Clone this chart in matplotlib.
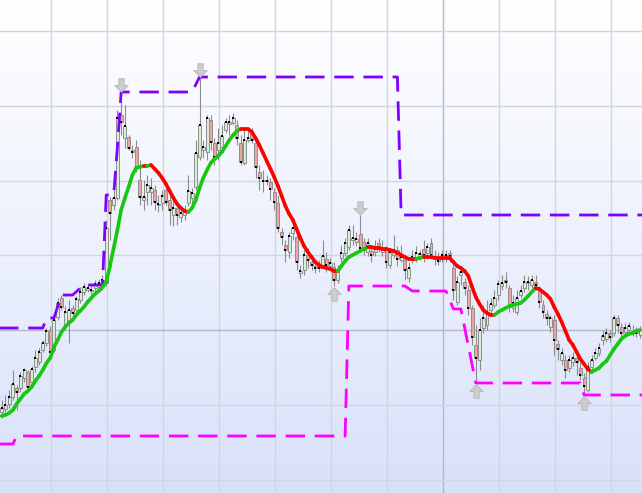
import numpy as np
import matplotlib
matplotlib.use("Agg")
import matplotlib.pyplot as plt
from matplotlib.collections import LineCollection
from matplotlib.colors import LinearSegmentedColormap
from matplotlib.path import Path

# ---------------- data ----------------
opens = [88, 91, 96, 103, 112, 112, 122, 128, 118, 133,
         138, 150, 157, 170, 150, 183, 202, 175, 180, 192,
         190, 200, 208, 210, 209, 212, 213, 215, 217, 300,
         295, 302, 385, 362, 363, 350, 353, 320, 300, 308,
         308, 310, 295, 297, 310, 300, 285, 292, 283, 285,
         297, 302, 313, 343, 350, 348, 380, 357, 350, 353,
         370, 376, 377, 375, 357, 337, 360, 367, 357, 328,
         320, 320, 318, 308, 297, 268, 255, 248, 267, 263,
         227, 230, 245, 238, 234, 235, 235, 241, 234, 233,
         220, 242, 247, 253, 260, 258, 266, 258, 248, 249,
         248, 257, 248, 250, 235, 245, 250, 240, 240, 222,
         240, 242, 243, 251, 247, 257, 242, 243, 242, 242,
         247, 232, 198, 225, 218, 210, 192, 155, 140, 172,
         175, 190, 195, 205, 214, 220, 212, 192, 188, 205,
         212, 217, 215, 218, 210, 195, 186, 173, 180, 156,
         140, 140, 132, 138, 142, 132, 122, 110, 133, 142,
         147, 160, 161, 167, 167, 182, 173, 168, 170, 167,
         167, 165]
closes = [92, 95, 103, 116, 108, 124, 130, 113, 131, 142,
          148, 157, 169, 148, 180, 197, 193, 188, 190, 187,
          201, 208, 213, 212, 210, 216, 217, 220, 272, 287,
          302, 382, 378, 374, 352, 348, 333, 303, 303, 315,
          312, 298, 296, 304, 298, 290, 292, 285, 287, 290,
          309, 307, 347, 375, 353, 382, 358, 343, 357, 364,
          378, 378, 382, 362, 338, 360, 362, 360, 333, 322,
          319, 319, 311, 298, 272, 263, 250, 264, 272, 238,
          229, 245, 240, 235, 232, 232, 244, 235, 237, 220,
          230, 247, 257, 270, 262, 261, 252, 250, 257, 245,
          251, 252, 252, 238, 248, 250, 241, 243, 230, 232,
          243, 247, 246, 245, 253, 245, 243, 239, 245, 245,
          244, 210, 218, 228, 212, 192, 163, 142, 170, 182,
          188, 196, 202, 216, 217, 218, 193, 197, 202, 209,
          218, 218, 220, 215, 198, 188, 182, 182, 160, 151,
          147, 130, 140, 142, 138, 125, 114, 133, 140, 147,
          152, 164, 167, 163, 182, 175, 167, 172, 174, 168,
          167, 170]
highs = [100, 105, 110, 130, 115, 128, 132, 130, 134, 150,
         152, 160, 172, 174, 184, 202, 205, 194, 200, 195,
         204, 213, 217, 216, 216, 220, 221, 225, 280, 303,
         310, 390, 408, 395, 365, 355, 360, 340, 320, 325,
         322, 315, 305, 310, 315, 305, 300, 295, 292, 295,
         325, 312, 360, 423, 360, 385, 385, 362, 372, 375,
         382, 385, 387, 380, 365, 370, 372, 372, 360, 335,
         330, 325, 322, 312, 305, 272, 260, 268, 275, 268,
         235, 250, 252, 242, 238, 240, 260, 248, 242, 238,
         235, 255, 262, 275, 275, 268, 285, 262, 262, 255,
         260, 262, 260, 254, 252, 265, 254, 255, 244, 238,
         250, 254, 250, 260, 257, 262, 250, 248, 250, 250,
         250, 238, 224, 232, 222, 215, 195, 175, 182, 195,
         200, 202, 210, 220, 225, 228, 215, 205, 210, 215,
         225, 224, 225, 225, 214, 200, 190, 185, 185, 160,
         152, 145, 145, 148, 146, 138, 127, 138, 145, 152,
         157, 170, 172, 170, 185, 185, 177, 177, 178, 175,
         173, 174]
lows = [82, 88, 92, 100, 90, 108, 118, 110, 115, 128,
        135, 148, 154, 145, 148, 180, 190, 170, 157, 184,
        187, 197, 205, 208, 200, 208, 210, 210, 214, 260,
        290, 300, 365, 352, 350, 342, 328, 295, 290, 295,
        295, 290, 288, 290, 295, 275, 274, 275, 278, 280,
        294, 295, 310, 340, 342, 340, 350, 335, 340, 350,
        367, 365, 375, 355, 335, 335, 358, 357, 322, 310,
        308, 315, 300, 290, 268, 255, 238, 242, 260, 230,
        222, 225, 232, 230, 227, 228, 232, 228, 230, 214,
        217, 238, 244, 250, 255, 254, 248, 245, 244, 238,
        244, 248, 244, 232, 232, 242, 234, 238, 220, 218,
        237, 238, 240, 238, 244, 242, 235, 235, 238, 238,
        238, 200, 195, 215, 205, 185, 155, 117, 130, 167,
        170, 185, 192, 200, 210, 212, 188, 188, 185, 202,
        208, 210, 212, 210, 192, 182, 175, 168, 145, 140,
        135, 122, 128, 134, 125, 120, 105, 108, 130, 140,
        144, 155, 158, 158, 164, 167, 162, 165, 167, 164,
        163, 162]
ma_values = [84, 85, 87, 90, 96, 101, 106, 109, 113, 119,
             124, 130, 137, 142, 153, 160, 168, 173, 177, 180,
             185, 189, 193, 198, 202, 206, 209, 213, 218, 234,
             252, 270, 290, 302, 313, 325, 332, 333, 334, 334,
             335, 331, 327, 322, 316, 309, 302, 296, 292, 289,
             288, 292, 300, 312, 322, 330, 337, 341, 344, 348,
             354, 360, 365, 369, 371, 371, 371, 368, 362, 355,
             347, 339, 331, 323, 314, 304, 294, 286, 280, 271,
             262, 254, 248, 243, 238, 235, 233, 232, 231, 229,
             229, 234, 239, 243, 245, 247, 249, 251, 253, 253,
             252, 252, 251, 251, 250, 249, 247, 245, 243, 241,
             241, 241, 242, 243, 243, 243, 242, 242, 242, 242,
             242, 238, 234, 232, 229, 224, 213, 203, 196, 190,
             187, 185, 185, 188, 190, 192, 194, 195, 196, 197,
             200, 204, 208, 212, 211, 208, 205, 201, 193, 186,
             178, 169, 160, 155, 148, 141, 136, 131, 128, 130,
             132, 136, 139, 145, 151, 156, 161, 164, 166, 167,
             169, 170]

upper_x = [-1, 11, 12, 14, 16, 19, 22, 27, 28, 30, 31, 32, 51, 53, 106, 107, 173]
upper_y = [172, 172, 182, 182, 205, 205, 215, 215, 305, 305, 353, 408, 408, 423, 423, 285, 285]
lower_x = [-1, 3, 4, 92, 93, 108, 110, 119, 121, 123, 127, 155, 156, 173]
lower_y = [56, 56, 64, 64, 214, 214, 209, 209, 191, 191, 117, 117, 105, 105]

arrow_down_x = [32, 53, 96]
arrow_down_y = [408, 423, 285]
arrow_up_x = [89, 127, 156]
arrow_up_y = [214, 117, 105]

# grid positions (index / price units)
xgrid = [13.13 + 15 * k for k in range(11)]
xgrid_major = [118.13]
ygrid = [468.8 - 74.75 * k for k in range(7)]
ygrid_major = [169.8]

# ---------------- figure ----------------
plt.rcParams['lines.scale_dashes'] = False
fig = plt.figure(figsize=(6.42, 4.93), dpi=100)
ax = fig.add_axes([0, 0, 1, 1])
xmin, xmax = -0.455, 171.52
ymin, ymax = 7, 500
ax.set_xlim(xmin, xmax)
ax.set_ylim(ymin, ymax)

# background gradient
cmap = LinearSegmentedColormap.from_list("bg", ["#d8e1fa", "#edf1fd", "#ffffff"])
grad = np.linspace(0, 1, 256).reshape(-1, 1)
ax.imshow(grad, extent=[xmin, xmax, ymin, ymax], origin="lower", aspect="auto",
          cmap=cmap, zorder=0, interpolation="bicubic")

# grid
for xv in xgrid:
    c = "#b3b8ca" if any(abs(xv - m) < 0.5 for m in xgrid_major) else "#d2d5e1"
    ax.axvline(xv, color=c, lw=1.0, zorder=0.5)
for yv in ygrid:
    c = "#b3b8ca" if any(abs(yv - m) < 1 for m in ygrid_major) else "#d2d5e1"
    ax.axhline(yv, color=c, lw=1.0, zorder=0.5)

# candles
o = np.array(opens, float)
c = np.array(closes, float)
h = np.array(highs, float)
l = np.array(lows, float)
x = np.arange(len(c))
up = c >= o
ax.vlines(x, l, h, color="#8c8c8c", lw=0.8, zorder=2)
bottom = np.minimum(o, c)
height = np.maximum(np.abs(c - o), 1.0)
ax.bar(x, height, bottom=bottom, width=0.8,
       color=np.where(up, "#d6eed4", "#f1a3a1"),
       edgecolor="#8e8e8e", linewidth=0.7, zorder=3)
ax.scatter(x, c, marker="s", s=2.8, color="black", linewidths=0, zorder=4)

# dashed channel lines
ax.plot(upper_x, upper_y, color="#7f00ff", lw=2.0, linestyle=(0, (14, 7)),
        solid_joinstyle="round", dash_capstyle="butt", zorder=5)
ax.plot(lower_x, lower_y, color="#ff00ff", lw=2.0, linestyle=(0, (14, 7)),
        dash_capstyle="butt", zorder=5)

# moving average coloured by direction
ma = np.array(ma_values, float)
pts = np.column_stack([x, ma])
segs = np.stack([pts[:-1], pts[1:]], axis=1)
cols = np.where(np.diff(ma) > 0, "#16c810", "#ff0000")
ax.add_collection(LineCollection(segs, colors=cols, linewidths=2.6,
                                 capstyle="round", joinstyle="round", zorder=6))

# arrows
down_verts = [(0, -0.5), (-0.5, 0.0), (-0.2, 0.0), (-0.2, 0.5),
              (0.2, 0.5), (0.2, 0.0), (0.5, 0.0), (0, -0.5)]
down_path = Path(down_verts, closed=True)
up_path = Path([(vx, -vy) for vx, vy in down_verts], closed=True)
ax.scatter(arrow_down_x, np.array(arrow_down_y) + 7.5, marker=down_path, s=95,
           facecolor="#cdcdcd", edgecolor="#b5b5b5", linewidths=0.6, zorder=7)
ax.scatter(arrow_up_x, np.array(arrow_up_y) - 7.5, marker=up_path, s=95,
           facecolor="#cdcdcd", edgecolor="#b5b5b5", linewidths=0.6, zorder=7)

for s in ax.spines.values():
    s.set_visible(False)
ax.set_xticks([])
ax.set_yticks([])

fig.savefig("out.png", dpi=100)
